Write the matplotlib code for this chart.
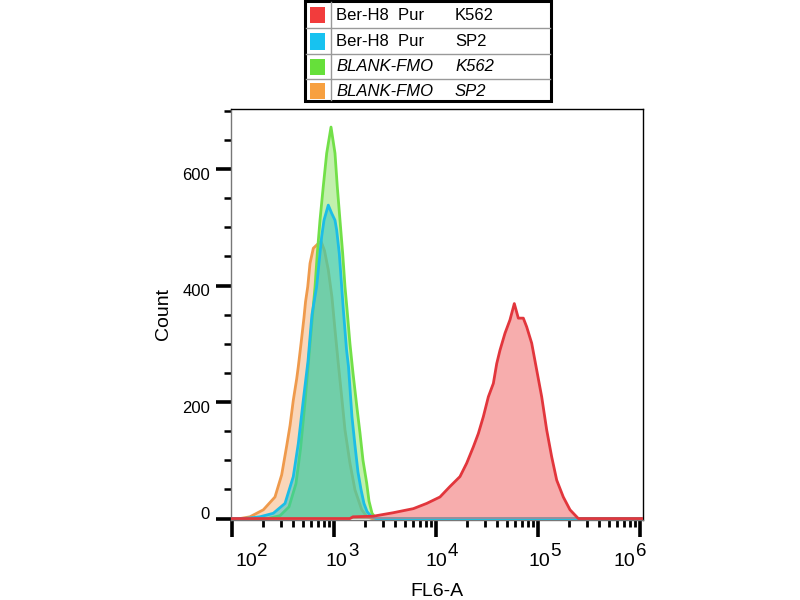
import numpy as np
import matplotlib
matplotlib.use('Agg')
import matplotlib.pyplot as plt
from matplotlib.transforms import ScaledTranslation
from matplotlib.patches import Rectangle
from matplotlib.lines import Line2D
from matplotlib.ticker import LogLocator, MultipleLocator, NullFormatter, FixedLocator

plt.rcParams['font.family'] = ['Liberation Sans', 'DejaVu Sans']

# ---------------- data (FL6-A value, count) ----------------
orange_x = [98, 120, 150, 203, 264, 307, 344, 371, 399, 431, 447, 475, 508, 526, 553, 582,
            627, 681, 746, 807, 879, 955, 1023, 1102, 1190, 1282, 1434, 1607, 1870, 2109, 2360, 1.07e6]
orange_y = [0, 0, 3, 15, 37, 75, 125, 160, 203, 240, 261, 300, 345, 372, 398, 438,
            464, 470, 476, 460, 427, 380, 324, 266, 209, 152, 95, 49, 15, 3, 0, 0]

green_x = [98, 225, 296, 362, 424, 470, 520, 582, 652, 686, 729, 785, 848, 935, 1023, 1077,
           1145, 1217, 1282, 1341, 1434, 1535, 1680, 1798, 1924, 2092, 2204, 2360, 2582, 1.07e6]
green_y = [0, 0, 5, 20, 60, 120, 200, 300, 398, 455, 512, 570, 627, 672, 627, 570,
           512, 455, 398, 360, 300, 250, 190, 147, 100, 61, 30, 9, 0, 0]

blue_x = [98, 130, 150, 188, 254, 331, 399, 447, 500, 556, 608, 676, 718, 757, 798, 879,
          949, 1023, 1063, 1127, 1190, 1233, 1327, 1387, 1500, 1607, 1718, 1840, 1967, 2109,
          2307, 2582, 1.07e6]
blue_y = [0, 0, 1, 3, 9, 26, 72, 129, 203, 270, 350, 398, 444, 484, 512, 538,
          524, 512, 495, 455, 398, 360, 290, 261, 175, 125, 80, 50, 26, 12,
          4, 0, 0]

red_x = [98, 1434, 1535, 2427, 3813, 5998, 8116, 10940, 13710, 17180, 19990, 23230, 26020,
         29130, 32610, 36510, 39390, 42400, 47450, 53120, 58580, 64130, 71790, 77480, 86740,
         97100, 108700, 121700, 136200, 152500, 177000, 206000, 248500, 1.07e6]
red_y = [0, 0, 3, 4, 10, 17, 26, 37, 55, 72, 95, 123, 146,
         175, 209, 232, 266, 289, 318, 341, 369, 344, 344, 329, 301,
         255, 209, 152, 106, 66, 37, 15, 0, 0]

y_ticks = [0, 200, 400, 600]
x_decades = [2, 3, 4, 5, 6]

legend_names = ['Ber-H8  Pur', 'Ber-H8  Pur', 'BLANK-FMO', 'BLANK-FMO']
legend_cells = ['K562', 'SP2', 'K562', 'SP2']
legend_italic = [False, False, True, True]

# ---------------- styles ----------------
c_red, f_red = '#e2363c', '#f26a6a'
c_blue, f_blue = '#1cbde6', '#24c2c8'
c_green, f_green = '#72e048', '#86e25c'
c_orange, f_orange = '#ef9a4c', '#f7ae74'
legend_colors = ['#f23c3c', '#17c2f0', '#66e03a', '#f7a040']

fig = plt.figure(figsize=(8, 6), dpi=100)
W, H = 800, 600
ax = fig.add_axes([231 / W, 80 / H, 412 / W, 411 / H])

series = [
    (orange_x, orange_y, c_orange, f_orange, 0.5),
    (green_x, green_y, c_green, f_green, 0.5),
    (blue_x, blue_y, c_blue, f_blue, 0.5),
    (red_x, red_y, c_red, f_red, 0.55),
]
z = 2
for xs, ys, lc, fc, al in series:
    ax.fill_between(xs, ys, 0, color=fc, alpha=al, lw=0, zorder=z)
    ax.plot(xs, ys, color=lc, lw=2, zorder=z + 0.5, solid_joinstyle='round')
    z += 1

ax.set_xscale('log')
ax.set_xlim(97.8, 1.07e6)
ax.set_ylim(-2.5, 703)

ax.xaxis.set_major_locator(FixedLocator([10.0 ** d for d in x_decades]))
ax.xaxis.set_minor_locator(LogLocator(base=10, subs=np.arange(2, 10), numticks=20))
ax.xaxis.set_major_formatter(NullFormatter())
ax.xaxis.set_minor_formatter(NullFormatter())
ax.tick_params(axis='x', which='major', length=12, width=2.6, color='black', direction='out')
ax.tick_params(axis='x', which='minor', length=5, width=2.0, color='black', direction='out')

ax.set_yticks(y_ticks)
ax.yaxis.set_minor_locator(MultipleLocator(50))
ax.yaxis.set_major_formatter(NullFormatter())
ax.tick_params(axis='y', which='major', length=11, width=2.6, color='black', direction='out')
ax.tick_params(axis='y', which='minor', length=5, width=1.8, color='black', direction='out')

for s in ['top', 'right']:
    ax.spines[s].set_color('black')
    ax.spines[s].set_linewidth(1.0)
for s in ['left', 'bottom']:
    ax.spines[s].set_color('#777777')
    ax.spines[s].set_linewidth(1.0)

# y tick labels
ytr = ax.get_yaxis_transform()
for v in y_ticks:
    dy = 4 if v == 0 else -6
    ax.text(0, v, str(v), transform=ytr + ScaledTranslation(-21 / 100, dy / 100, fig.dpi_scale_trans),
            ha='right', va='center', fontsize=12, color='black')

# x tick labels: "10" with same-size raised exponent
xtr = ax.get_xaxis_transform()
x_label_shift = [25, 13.5, 11.5, 12, -5]
for d, sh in zip(x_decades, x_label_shift):
    ax.text(10.0 ** d, 0, '10', transform=xtr + ScaledTranslation(sh / 100, -41 / 100, fig.dpi_scale_trans),
            ha='right', va='center', fontsize=14, color='black')
    ax.text(10.0 ** d, 0, str(d), transform=xtr + ScaledTranslation((sh + 0.5) / 100, -31 / 100, fig.dpi_scale_trans),
            ha='left', va='center', fontsize=13.5, color='black')

ax.set_ylabel('Count', fontsize=14)
ax.yaxis.set_label_coords((172 - 231) / 412, 0.5)
ax.set_xlabel('FL6-A', fontsize=14)
ax.xaxis.set_label_coords(0.5, (520 - 583) / 411)

# ---------------- legend table (figure pixel coords) ----------------
def fx(px):
    return px / W

def fy(py):
    return 1 - py / H

row_centers = [15, 41.5, 66.5, 91.5]
row_lines = [28, 54, 79]
fig.patches.append(Rectangle((fx(305), fy(101)), fx(551) - fx(305), fy(1) - fy(101),
                             transform=fig.transFigure, facecolor='white', edgecolor='black',
                             lw=2.2, zorder=5))
for rl in row_lines:
    fig.lines.append(Line2D([fx(306), fx(550)], [fy(rl), fy(rl)], transform=fig.transFigure,
                            color='#999999', lw=1, zorder=6))
fig.lines.append(Line2D([fx(331), fx(331)], [fy(2), fy(100)], transform=fig.transFigure,
                        color='#999999', lw=1, zorder=6))
for rc, col, nm, cell, it in zip(row_centers, legend_colors, legend_names, legend_cells, legend_italic):
    fig.patches.append(Rectangle((fx(310), fy(rc + 8)), fx(325) - fx(310), fy(rc - 8) - fy(rc + 8),
                                 transform=fig.transFigure, facecolor=col, edgecolor='none', zorder=6))
    style = 'italic' if it else 'normal'
    fig.text(fx(336), fy(rc), nm, ha='left', va='center', fontsize=12, style=style, zorder=7)
    fig.text(fx(455), fy(rc), cell, ha='left', va='center', fontsize=12, style=style, zorder=7)

fig.savefig('out.png', dpi=100, facecolor='white')
